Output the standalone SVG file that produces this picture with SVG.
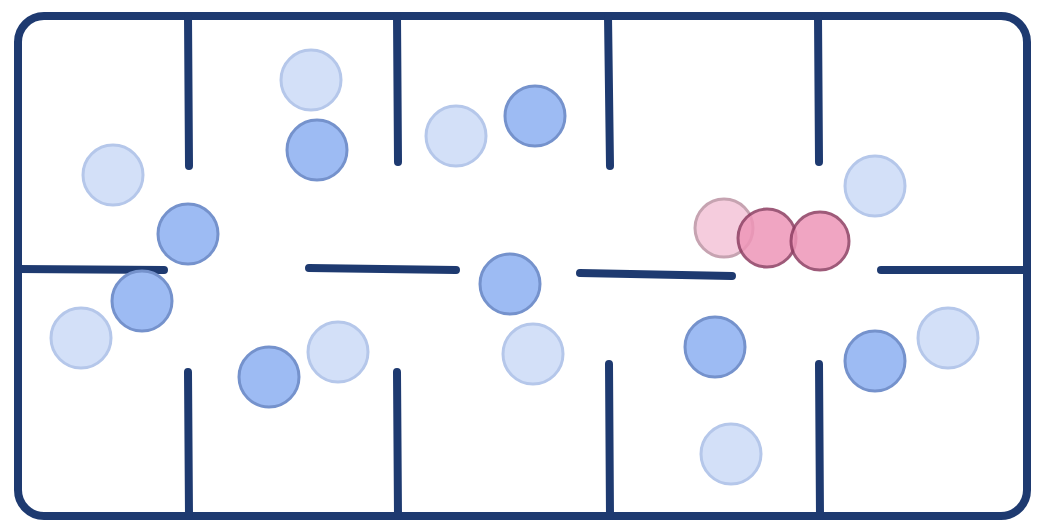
<svg xmlns="http://www.w3.org/2000/svg" width="1040" height="524" viewBox="0 0 1040 524">
<style>
.wall{stroke:#1e3a70;stroke-width:8;stroke-linecap:round;fill:none}
.lt{fill:#d3e0f8;stroke:#b5c7ea;stroke-width:3}
.md{fill:#9dbbf3;stroke:#7592cc;stroke-width:3}
.pl{fill:#f2bcd2;stroke:#b48597;stroke-width:3;opacity:0.75}
.pk{fill:#ee96b8;stroke:#8e3e62;stroke-width:3;opacity:0.85}
</style>
<rect width="1040" height="524" fill="#ffffff"/>
<g id="walls">
<rect class="wall" x="18" y="16" width="1009" height="500" rx="26"/>
<line class="wall" x1="188" y1="16" x2="189" y2="166"/>
<line class="wall" x1="397" y1="16" x2="398" y2="162"/>
<line class="wall" x1="608" y1="16" x2="610" y2="166"/>
<line class="wall" x1="818" y1="16" x2="819" y2="162"/>
<line class="wall" x1="188" y1="372" x2="189" y2="516"/>
<line class="wall" x1="397" y1="372" x2="398" y2="516"/>
<line class="wall" x1="609" y1="364" x2="610" y2="516"/>
<line class="wall" x1="819" y1="364" x2="820" y2="516"/>
<line class="wall" x1="18" y1="269" x2="164" y2="270"/>
<line class="wall" x1="309" y1="268" x2="456" y2="270"/>
<line class="wall" x1="580" y1="273" x2="732" y2="276"/>
<line class="wall" x1="881" y1="270" x2="1027" y2="270"/>
</g>
<g id="particles">
<circle class="lt" cx="113" cy="175" r="30"/>
<circle class="lt" cx="311" cy="80" r="30"/>
<circle class="lt" cx="456" cy="136" r="30"/>
<circle class="lt" cx="81" cy="338" r="30"/>
<circle class="lt" cx="338" cy="352" r="30"/>
<circle class="lt" cx="533" cy="354" r="30"/>
<circle class="lt" cx="875" cy="186" r="30"/>
<circle class="lt" cx="948" cy="338" r="30"/>
<circle class="lt" cx="731" cy="454" r="30"/>
<circle class="md" cx="188" cy="234" r="30"/>
<circle class="md" cx="142" cy="301" r="30"/>
<circle class="md" cx="317" cy="150" r="30"/>
<circle class="md" cx="535" cy="116" r="30"/>
<circle class="md" cx="510" cy="284" r="30"/>
<circle class="md" cx="269" cy="377" r="30"/>
<circle class="md" cx="715" cy="347" r="30"/>
<circle class="md" cx="875" cy="361" r="30"/>
</g>
<g id="pink">
<circle class="pl" cx="724" cy="228" r="29"/>
<circle class="pk" cx="767" cy="238" r="29"/>
<circle class="pk" cx="820" cy="241" r="29"/>
</g>
</svg>
